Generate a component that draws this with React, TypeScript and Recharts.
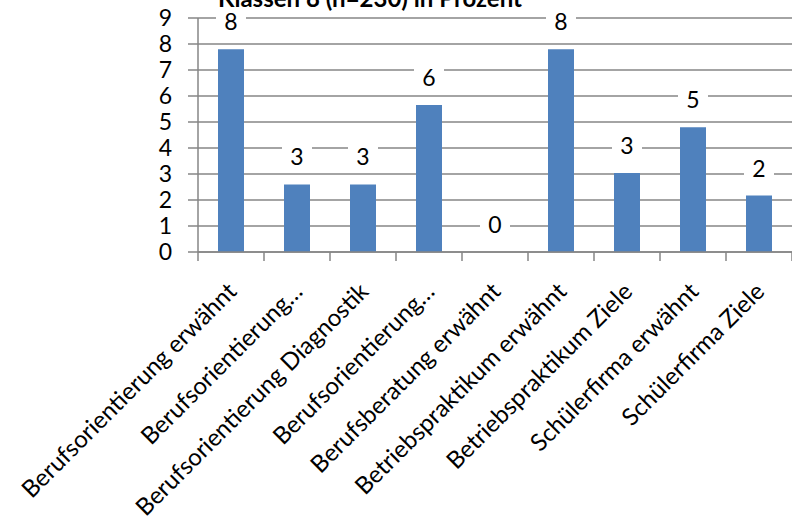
import { ComposedChart, Bar, Line, XAxis, YAxis, CartesianGrid, LabelList } from 'recharts'

const categories = [
  'Berufsorientierung erwähnt',
  'Berufsorientierung…',
  'Berufsorientierung Diagnostik',
  'Berufsorientierung…',
  'Berufsberatung erwähnt',
  'Betriebspraktikum erwähnt',
  'Betriebspraktikum Ziele',
  'Schülerfirma erwähnt',
  'Schülerfirma Ziele',
]
const values = [7.8, 2.6, 2.6, 5.65, 0, 7.8, 3.04, 4.8, 2.17]
const yTicks = [0, 1, 2, 3, 4, 5, 6, 7, 8, 9]

const data = categories.map((name, i) => ({ name, value: values[i] }))

const FONT = 'Lato, "Open Sans", sans-serif'
const AXIS = '#868686'
const STEP = 594 / 9

function XTick(props: any) {
  const { x, y, payload, index } = props
  return (
    <g>
      <line x1={x - STEP / 2} y1={y} x2={x - STEP / 2} y2={y + 9} stroke={AXIS} strokeWidth={1.5} />
      {index === categories.length - 1 && (
        <line x1={x + STEP / 2} y1={y} x2={x + STEP / 2} y2={y + 9} stroke={AXIS} strokeWidth={1.5} />
      )}
      <g transform={`translate(${x + 7},${y + 41}) rotate(-45)`}>
        <text x={0} y={0} textAnchor="end" fontSize={24} fill="#000" fontFamily={FONT}>
          {payload.value}
        </text>
      </g>
    </g>
  )
}

// labels ride on an invisible line so the zero bar still gets its "0"
function ValueLabel(props: any) {
  const { x, y, value } = props
  const cy = y - 27
  const txt = String(Math.round(value))
  return (
    <g>
      <rect x={x - 15} y={cy - 12} width={30} height={24} fill="#fff" />
      <text x={x} y={cy} dy={8} textAnchor="middle" fontSize={23} fill="#000" fontFamily={FONT}>
        {txt}
      </text>
    </g>
  )
}

export default function App() {
  return (
    <div style={{ position: 'absolute', left: 0, top: 0, width: 792, height: 523, background: '#fff', overflow: 'hidden' }}>
      <ComposedChart
        width={792}
        height={523}
        data={data}
        margin={{ top: 18, right: 0, left: 0, bottom: 0 }}
        barCategoryGap="30%"
      >
        <text x={370} y={7} textAnchor="middle" fontSize={24} fontWeight="bold" fontFamily={FONT} fill="#000">
          Klassen 8 (n=230) in Prozent
        </text>
        <CartesianGrid horizontal vertical={false} stroke={AXIS} strokeWidth={1.5} />
        <XAxis
          dataKey="name"
          interval={0}
          tick={<XTick />}
          tickLine={false}
          tickSize={0}
          tickMargin={0}
          axisLine={{ stroke: AXIS, strokeWidth: 1.5 }}
          height={271}
        />
        <YAxis
          width={198}
          domain={[0, 9]}
          ticks={yTicks}
          interval={0}
          tickSize={10}
          tickMargin={16}
          tickLine={{ stroke: AXIS, strokeWidth: 1.5 }}
          axisLine={{ stroke: AXIS, strokeWidth: 1.5 }}
          tick={{ fontSize: 23, fill: '#000', fontFamily: FONT }}
        />
        <Bar dataKey="value" fill="#4F81BD" barSize={26} isAnimationActive={false} />
        <Line dataKey="value" stroke="none" dot={false} activeDot={false} isAnimationActive={false}>
          <LabelList dataKey="value" content={<ValueLabel />} />
        </Line>
      </ComposedChart>
    </div>
  )
}
